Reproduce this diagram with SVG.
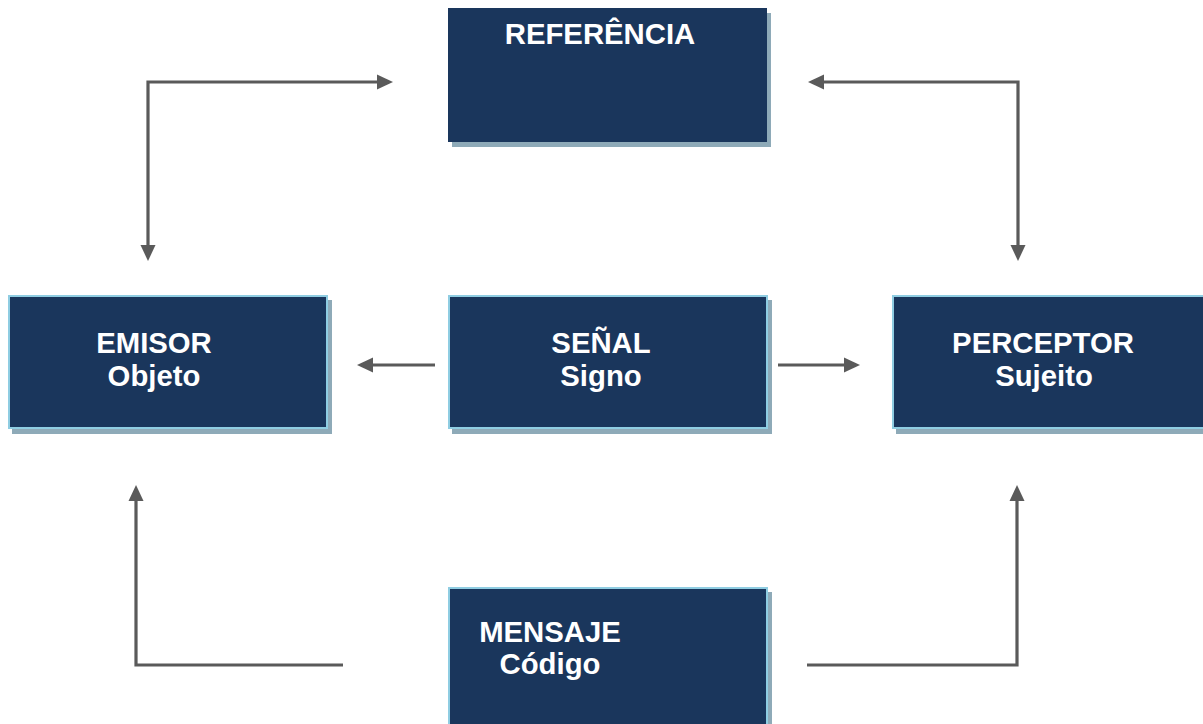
<svg xmlns="http://www.w3.org/2000/svg" width="1203" height="724" viewBox="0 0 1203 724">
<style>
.box{fill:#1a365c;stroke:#8fcde2;stroke-width:2}
.boxnb{fill:#1a365c}
.sh{fill:#8eaab8}
.t{font-family:"Liberation Sans",Arial,sans-serif;font-weight:bold;font-size:29.3px;fill:#ffffff;text-anchor:middle}
.c{fill:none;stroke:#5a5a5a;stroke-width:3.2}
</style>
<defs>
<marker id="ah" markerUnits="userSpaceOnUse" markerWidth="17" markerHeight="16" refX="0" refY="7.5" orient="auto-start-reverse" viewBox="0 0 17 15">
<path d="M0,0 L16,7.5 L0,15 z" fill="#5a5a5a"/>
</marker>
</defs>
<rect width="1203" height="724" fill="#ffffff"/>
<g id="connectors">
<path class="c" d="M148,245 L148,82 L377,82" marker-start="url(#ah)" marker-end="url(#ah)"/>
<path class="c" d="M824,82 L1018,82 L1018,245" marker-start="url(#ah)" marker-end="url(#ah)"/>
<path class="c" d="M435,365 L373,365" marker-end="url(#ah)"/>
<path class="c" d="M778,365 L844,365" marker-end="url(#ah)"/>
<path class="c" d="M343,665 L136,665 L136,501" marker-end="url(#ah)"/>
<path class="c" d="M807,665 L1017,665 L1017,501" marker-end="url(#ah)"/>
</g>
<g id="referencia">
<rect class="sh" x="452" y="13" width="319" height="134"/>
<rect class="boxnb" x="448" y="8" width="319" height="134"/>
<text class="t" x="600" y="44">REFERÊNCIA</text>
</g>
<g id="emisor">
<rect class="sh" x="12" y="300" width="320" height="134"/>
<rect class="box" x="9" y="296" width="318" height="132"/>
<text class="t" x="154" y="353">EMISOR</text>
<text class="t" x="154" y="386">Objeto</text>
</g>
<g id="senal">
<rect class="sh" x="452" y="300" width="320" height="134"/>
<rect class="box" x="449" y="296" width="318" height="132"/>
<text class="t" x="601" y="353">SEÑAL</text>
<text class="t" x="601" y="386">Signo</text>
</g>
<g id="perceptor">
<rect class="sh" x="896" y="300" width="320" height="134"/>
<rect class="box" x="893" y="296" width="318" height="132"/>
<text class="t" x="1043" y="353">PERCEPTOR</text>
<text class="t" x="1044" y="386">Sujeito</text>
</g>
<g id="mensaje">
<rect class="sh" x="452" y="592" width="320" height="140"/>
<rect class="box" x="449" y="588" width="318" height="140"/>
<text class="t" x="550" y="642">MENSAJE</text>
<text class="t" x="550" y="674">Código</text>
</g>
</svg>
